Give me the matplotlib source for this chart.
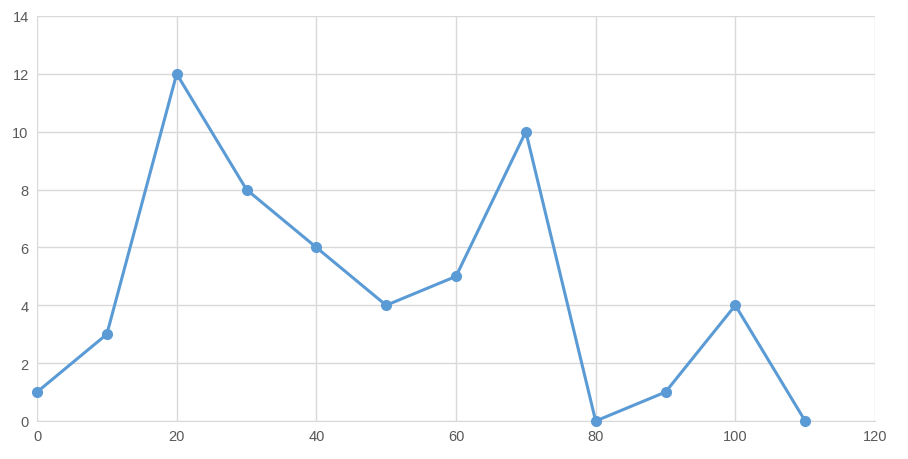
import matplotlib
matplotlib.use("Agg")
import matplotlib.pyplot as plt

x_vals = [0, 10, 20, 30, 40, 50, 60, 70, 80, 90, 100, 110]
y_vals = [1, 3, 12, 8, 6, 4, 5, 10, 0, 1, 4, 0]
x_ticks = [0, 20, 40, 60, 80, 100, 120]
y_ticks = [0, 2, 4, 6, 8, 10, 12, 14]

plt.rcParams["font.family"] = ["Liberation Sans", "DejaVu Sans"]

fig = plt.figure(figsize=(9.08, 4.6), dpi=100)
ax = fig.add_axes([37 / 908, 38 / 460, 838 / 908, 405 / 460])

ax.plot(x_vals, y_vals, color="#5B9BD5", linewidth=2.2, marker="o",
        markersize=7, zorder=3, clip_on=False)

ax.set_xlim(0, 120)
ax.set_ylim(0, 14)
ax.set_xticks(x_ticks)
ax.set_yticks(y_ticks)
ax.grid(True, color="#D9D9D9", linewidth=1)
ax.set_axisbelow(True)
for side in ("top", "right", "left"):
    ax.spines[side].set_visible(False)
ax.spines["bottom"].set_color("#D9D9D9")
ax.tick_params(length=0, labelsize=10.5, colors="#595959", pad=6)

fig.savefig("out.png", dpi=100)
